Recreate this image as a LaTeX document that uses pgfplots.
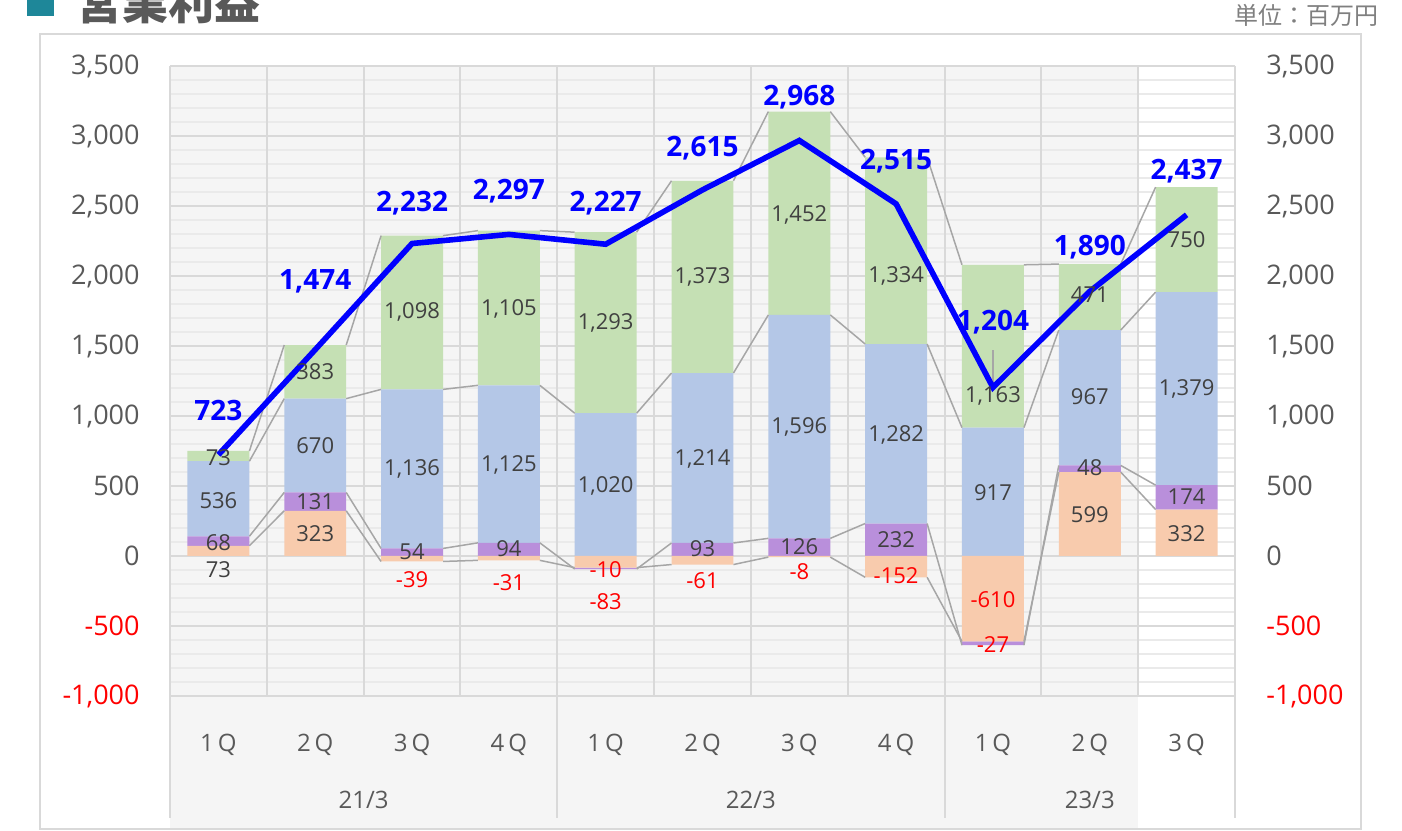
\documentclass[border=0pt]{standalone}
\usepackage{fontspec}
\setmainfont{Open Sans}
\newfontfamily\jp{Noto Sans CJK JP}
\usepackage{pgfplots}
\pgfplotsset{compat=1.18}
\definecolor{txt}{HTML}{595959}
\definecolor{lab}{HTML}{404040}
\definecolor{bgg}{HTML}{F5F5F5}
\definecolor{gmaj}{HTML}{D9D9D9}
\definecolor{gmin}{HTML}{EAEAEA}
\definecolor{cor}{HTML}{F8CBAD}
\definecolor{cpu}{HTML}{B98FDB}
\definecolor{cbl}{HTML}{B4C7E7}
\definecolor{cgr}{HTML}{C5E0B4}
\definecolor{ser}{HTML}{A6A6A6}
\definecolor{teal1}{HTML}{1E8799}
\definecolor{unitc}{HTML}{7F7F7F}
\definecolor{pure}{HTML}{0000FF}
\definecolor{neg}{HTML}{FF0000}
\pgfplotsset{base/.style={at={(85pt,67pt)}, anchor=south west, scale only axis,
  width=532.5pt, height=315pt, xmin=-0.5, xmax=10.5, ymin=-1000, ymax=3500, clip=false,
  /pgf/number format/assume math mode=true}}
\begin{document}
\begin{tikzpicture}
\path[use as bounding box] (0,0) rectangle (701pt,415pt);
\draw[gmaj, line width=1pt] (20pt,0.5pt) rectangle (680.5pt,398pt);
\fill[teal1] (13.5pt,407pt) rectangle (27pt,421pt);
\node[anchor=base west, inner sep=0pt, text=txt, font=\jp\bfseries\fontsize{23}{23}\selectfont] at (38pt,405pt) {営業利益};
\node[anchor=base east, inner sep=0pt, text=unitc, font=\jp\fontsize{12}{12}\selectfont] at (689.5pt,402.5pt) {単位：百万円};

% axis 0: background, grid, tick labels
\begin{axis}[base, axis on top,
  axis line style={draw=none}, tick style={draw=none}, major tick length=0pt, minor tick length=0pt,
  ytick={-1000,-500,...,3500},
  yticklabels={{\textcolor{neg}{-1,000}},{\textcolor{neg}{-500}},0,500,{1,000},{1,500},{2,000},{2,500},{3,000},{3,500}},
  yticklabel style={anchor=east, inner sep=0pt, xshift=-15pt, font=\fontsize{13.5}{16}\selectfont, text=txt},
  minor y tick num=4, ymajorgrids, yminorgrids,
  major grid style={gmaj, line width=1pt}, minor grid style={gmin, line width=0.6pt},
  xtick={0,...,10},
  xticklabels={1\,Q,2\,Q,3\,Q,4\,Q,1\,Q,2\,Q,3\,Q,4\,Q,1\,Q,2\,Q,3\,Q},
  xticklabel style={anchor=base, inner sep=0pt, yshift=-27.5pt, font=\fontsize{12}{14}\selectfont, text=txt},
  extra x ticks={-0.5,0.5,1.5,2.5,3.5,4.5,5.5,6.5,7.5,8.5,9.5,10.5}, extra x tick labels={},
  extra x tick style={grid=major},
]
\fill[bgg] (axis cs:-0.5,3500) rectangle (axis cs:9.5,-1943);
\draw[gmaj, line width=1pt] (axis cs:-0.5,3500) -- (axis cs:-0.5,-1871);
\draw[gmaj, line width=1pt] (axis cs:10.5,3500) -- (axis cs:10.5,-1871);
\draw[gmaj, line width=1pt] (axis cs:3.5,-1000) -- (axis cs:3.5,-1871);
\draw[gmaj, line width=1pt] (axis cs:7.5,-1000) -- (axis cs:7.5,-1871);
\node[anchor=base, text=txt, font=\fontsize{12}{14}\selectfont] at (axis cs:1.5,-1807) {21/3};
\node[anchor=base, text=txt, font=\fontsize{12}{14}\selectfont] at (axis cs:5.5,-1807) {22/3};
\node[anchor=base, text=txt, font=\fontsize{12}{14}\selectfont] at (axis cs:9,-1807) {23/3};
\end{axis}

% axis A: positive stack
\begin{axis}[base, hide axis, ybar stacked, bar width=0.64]
\addplot[fill=cor, draw=none] coordinates {(0,73) (1,323) (2,0) (3,0) (4,0) (5,0) (6,0) (7,0) (8,0) (9,599) (10,332)};
\addplot[fill=cpu, draw=none] coordinates {(0,68) (1,131) (2,54) (3,94) (4,0) (5,93) (6,126) (7,232) (8,0) (9,48) (10,174)};
\addplot[fill=cbl, draw=none] coordinates {(0,536) (1,670) (2,1136) (3,1125) (4,1020) (5,1214) (6,1596) (7,1282) (8,917) (9,967) (10,1379)};
\addplot[fill=cgr, draw=none] coordinates {(0,73) (1,383) (2,1098) (3,1105) (4,1293) (5,1373) (6,1452) (7,1334) (8,1163) (9,471) (10,750)};
\end{axis}

% axis N: negative stack
\begin{axis}[base, hide axis, ybar stacked, bar width=0.64]
\addplot[fill=cor, draw=none] coordinates {(0,0) (1,0) (2,-39) (3,-31) (4,-83) (5,-61) (6,-8) (7,-152) (8,-610) (9,0) (10,0)};
\addplot[fill=cpu, draw=none] coordinates {(0,0) (1,0) (2,0) (3,0) (4,-10) (5,0) (6,0) (7,0) (8,-27) (9,0) (10,0)};
\end{axis}

% axis B: series lines, total line, labels, right ticks
\begin{axis}[base, hide x axis, axis y line*=right, y axis line style={draw=none}, ytick style={draw=none}, major tick length=0pt,
  ytick={-1000,-500,...,3500},
  yticklabels={{\textcolor{neg}{-1,000}},{\textcolor{neg}{-500}},0,500,{1,000},{1,500},{2,000},{2,500},{3,000},{3,500}},
  yticklabel style={anchor=west, inner sep=0pt, xshift=15.5pt, font=\fontsize{13.5}{16}\selectfont, text=txt},
  unbounded coords=jump]
\addplot[ser, line width=0.75pt, mark=none] coordinates {(0.32,73) (0.68,323) (0.9,nan) (1.32,323) (1.68,-39) (1.9,nan) (2.32,-39) (2.68,-31) (2.9,nan) (3.32,-31) (3.68,-83) (3.9,nan) (4.32,-83) (4.68,-61) (4.9,nan) (5.32,-61) (5.68,-8) (5.9,nan) (6.32,-8) (6.68,-152) (6.9,nan) (7.32,-152) (7.68,-610) (7.9,nan) (8.32,-610) (8.68,599) (8.9,nan) (9.32,599) (9.68,332)};
\addplot[ser, line width=0.75pt, mark=none] coordinates {(0.32,141) (0.68,454) (0.9,nan) (1.32,454) (1.68,54) (1.9,nan) (2.32,54) (2.68,94) (2.9,nan) (3.32,94) (3.68,-93) (3.9,nan) (4.32,-93) (4.68,93) (4.9,nan) (5.32,93) (5.68,126) (5.9,nan) (6.32,126) (6.68,232) (6.9,nan) (7.32,232) (7.68,-637) (7.9,nan) (8.32,-637) (8.68,647) (8.9,nan) (9.32,647) (9.68,506)};
\addplot[ser, line width=0.75pt, mark=none] coordinates {(0.32,677) (0.68,1124) (0.9,nan) (1.32,1124) (1.68,1190) (1.9,nan) (2.32,1190) (2.68,1219) (2.9,nan) (3.32,1219) (3.68,1020) (3.9,nan) (4.32,1020) (4.68,1307) (4.9,nan) (5.32,1307) (5.68,1722) (5.9,nan) (6.32,1722) (6.68,1514) (6.9,nan) (7.32,1514) (7.68,917) (7.9,nan) (8.32,917) (8.68,1614) (8.9,nan) (9.32,1614) (9.68,1885)};
\addplot[ser, line width=0.75pt, mark=none] coordinates {(0.32,750) (0.68,1507) (0.9,nan) (1.32,1507) (1.68,2288) (1.9,nan) (2.32,2288) (2.68,2324) (2.9,nan) (3.32,2324) (3.68,2313) (3.9,nan) (4.32,2313) (4.68,2680) (4.9,nan) (5.32,2680) (5.68,3174) (5.9,nan) (6.32,3174) (6.68,2848) (6.9,nan) (7.32,2848) (7.68,2080) (7.9,nan) (8.32,2080) (8.68,2085) (8.9,nan) (9.32,2085) (9.68,2635)};
\addplot[ser, line width=0.6pt, mark=none] coordinates {(8,1471) (8,1221)};
% total
\addplot[pure, line width=2.8pt, mark=none] coordinates {(0,723) (1,1474) (2,2232) (3,2297) (4,2227) (5,2615) (6,2968) (7,2515) (8,1204) (9,1890) (10,2437)};
% segment labels
\addplot[draw=none, mark=none, nodes near coords, point meta=explicit symbolic,
  every node near coord/.append style={anchor=center, inner sep=0pt, text=lab, font=\fontsize{11}{12}\selectfont}]
  table[x=x, y=y, meta=lab] {
x y lab
0 700 73
0 393 536
0 93 68
0 -100 73
1 1314 383
1 786 670
1 386 131
1 157 323
2 1743 1,098
2 621 1,136
2 29 54
3 1764 1,105
3 650 1,125
3 50 94
4 1664 1,293
4 500 1,020
5 1993 1,373
5 693 1,214
5 50 93
6 2436 1,452
6 921 1,596
6 64 126
7 2000 1,334
7 864 1,282
7 114 232
8 1143 1,163
8 450 917
9 1864 471
9 1136 967
9 629 48
9 293 599
10 2257 750
10 1193 1,379
10 421 174
10 157 332
};
\addplot[draw=none, mark=none, nodes near coords, point meta=explicit symbolic,
  every node near coord/.append style={anchor=center, inner sep=0pt, text=neg, font=\fontsize{11}{12}\selectfont}]
  table[x=x, y=y, meta=lab] {
x y lab
2 -171 -39
3 -193 -31
4 -100 -10
4 -329 -83
5 -179 -61
6 -114 -8
7 -143 -152
8 -314 -610
8 -629 -27
};
\addplot[draw=none, mark=none, nodes near coords, point meta=explicit symbolic,
  every node near coord/.append style={anchor=center, inner sep=0pt, text=pure, font=\bfseries\fontsize{14}{16}\selectfont}]
  table[x=x, y=y, meta=lab] {
x y lab
0 1036 723
1 1964 1,474
2 2521 2,232
3 2607 2,297
4 2521 2,227
5 2914 2,615
6 3279 2,968
7 2821 2,515
8 1671 1,204
9 2207 1,890
10 2750 2,437
};
\end{axis}
\end{tikzpicture}
\end{document}
